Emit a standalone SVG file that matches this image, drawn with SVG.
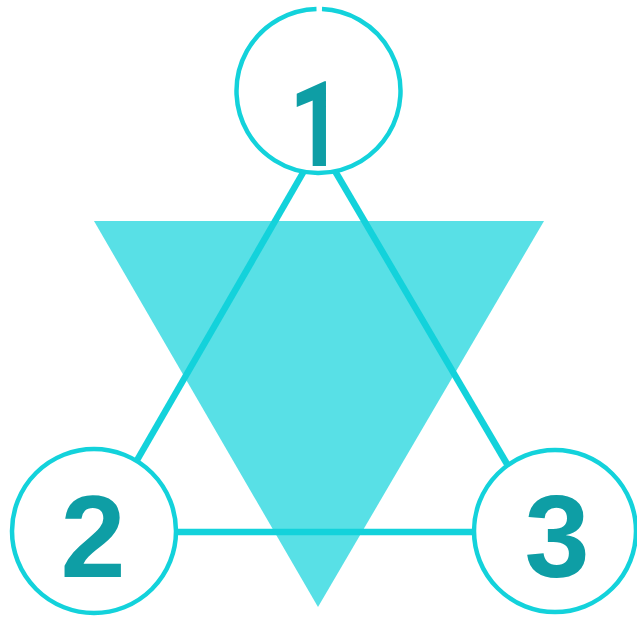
<svg xmlns="http://www.w3.org/2000/svg" width="637" height="617" viewBox="0 0 637 617">
<style>
.ring{fill:#ffffff;stroke:#13D2DB;stroke-width:4.5}
.edge{stroke:#13D2DB;stroke-width:6.5;fill:none}
.num{font-family:"Liberation Sans",Arial,sans-serif;font-weight:bold;font-size:117px;fill:#0E9EA5;text-anchor:middle}
.one{font-family:Roboto,"Liberation Sans",sans-serif;font-weight:bold;font-size:118px;fill:#0E9EA5}
</style>
<rect width="637" height="617" fill="#ffffff"/>
<polygon id="inverted-triangle" points="94,221 544,221 318,607" fill="#58E0E6"/>
<g id="connectors">
<line class="edge" x1="304" y1="171" x2="136" y2="462"/>
<line class="edge" x1="335" y1="171" x2="507" y2="464"/>
<line class="edge" x1="176" y1="532" x2="475" y2="532"/>
</g>
<g id="node1">
<circle cx="319" cy="91" r="82" fill="#ffffff"/>
<path class="ring" d="M 322 9.1 A 82 82 0 1 1 316.5 9.05"/>
<text class="one" transform="translate(289,166) scale(0.8,1)" x="0" y="0">1</text>
</g>
<g id="node2">
<circle class="ring" cx="94" cy="531" r="82"/>
<text class="num" x="93" y="577">2</text>
</g>
<g id="node3">
<circle class="ring" cx="555" cy="531" r="81"/>
<text class="num" x="557" y="577">3</text>
</g>
</svg>
